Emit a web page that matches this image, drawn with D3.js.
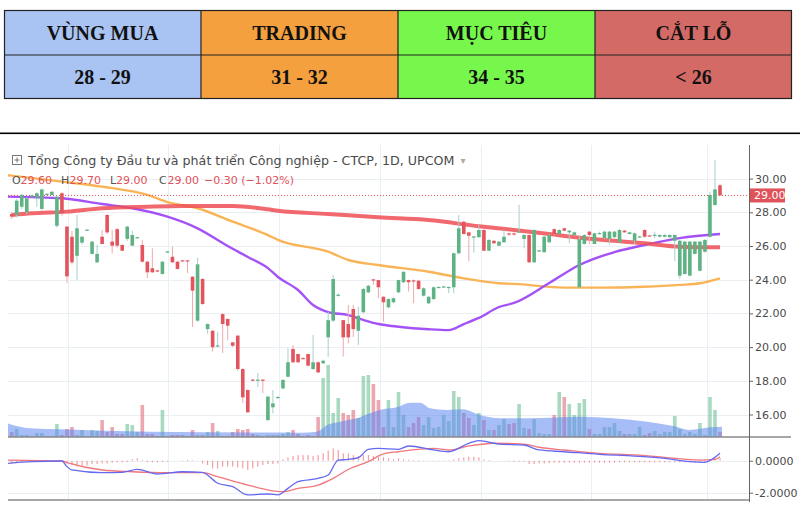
<!DOCTYPE html>
<html><head><meta charset="utf-8">
<script src="https://cdn.jsdelivr.net/npm/d3@7"></script>
<style>body{margin:0;background:#fff;} svg{display:block;}</style>
</head><body><svg id="c" width="800" height="512"></svg>
<script>
// ---------- DATA ----------
const tableHeaders = ["VÙNG MUA", "TRADING", "MỤC TIÊU", "CẮT LỖ"];
const tableValues = ["28 - 29", "31 - 32", "34 - 35", "< 26"];
const tableColors = ["#a9c4f2", "#f4a03f", "#77f74b", "#d46a66"];

const chartTitle = "Tổng Công ty Đầu tư và phát triển Công nghiệp - CTCP, 1D, UPCOM";
const ohlcLabels = ["O", "H", "L", "C"];
const ohlcValues = ["29.60", "29.70", "29.00", "29.00"];
const changeText = "−0.30 (−1.02%)";

const open  = [27.9,27.84,28.33,28,28.95,28.83,28.2,29.05,29.03,27.2,29.13,27.15,26.55,25.42,26.2,26.93,25.53,25.03,26.55,27.84,26.26,27,26.06,26.42,26.02,26.48,26.06,25.07,24.68,24.55,24.34,25.64,25.36,25.07,25.15,25.15,24.18,21.57,24.04,21.07,20.97,20.06,21.96,21.67,20.28,20.68,18.7,17.45,18.07,18.03,18.07,15.67,16.43,17,17.55,18.24,19.89,19.59,19.35,19.59,18.7,19.1,19.04,20.58,21.57,23.07,21.6,21.37,22.26,20.97,22.07,23.25,24.02,23.98,22.99,22.36,22.66,23.25,23.85,23.98,23.96,23.94,23.05,22.6,22.85,23.53,23.56,23.53,23.55,25.57,27.44,26.81,26.53,26.52,26.95,25.72,26.31,26.02,26.22,26.75,26.75,26.83,26.42,26.65,25.03,25.68,25.63,26.22,27,26.71,27.05,26.81,26.65,23.55,26.12,26.85,26.12,26.73,26.46,26.42,26.52,26.22,26.91,26.71,26.31,26.53,26.95,26.63,26.63,26.55,26.55,26.52,26.31,24.24,24.34,24.24,25.53,24.53,25.66,26.55,28.43,29.6];
const high  = [28,28.8,29.1,28.9,29.05,29.2,29.4,29.15,29.25,29,29.2,27.2,26.9,27.84,26.6,27,26.3,26.06,26.95,27.9,26.95,27.05,26.1,27.2,26.9,26.55,26.36,25.1,25.86,24.6,25.1,25.7,25.96,25.1,25.17,25.17,24.2,25.3,24.1,21.4,21,20.9,22,21.7,20.3,20.7,18.75,17.5,18.1,18.46,18.1,17.1,17.45,17.1,18.1,19.93,20.12,19.6,19.4,19.6,20.72,19.15,19.25,22.1,24.28,23.2,21.6,22.5,22.5,22.4,23.5,23.7,24.05,24,23,22.9,22.95,24,24.5,24,24,24,23.55,23,23.6,23.6,23.65,23.6,25.6,27.84,27.5,26.85,26.6,27.25,27,26.4,26.35,26.3,26.95,26.8,26.8,28.45,26.7,26.7,27,25.76,26.6,26.7,27.05,27,27.1,26.95,26.85,26.65,26.7,26.9,26.8,26.85,26.9,26.9,26.9,27,26.95,26.85,26.8,26.6,27,26.65,26.85,26.7,26.7,26.7,26.7,26.35,26.3,26.3,26.3,26.3,26.4,29.22,31.1,29.7];
const low   = [27.6,27.7,28.2,27.9,28.9,28.33,28.1,29,29,27.1,27.8,23.8,24.9,23.98,26.1,26.9,25.5,25,26.1,26.7,25.57,25.9,25.7,26.3,26,26.45,25,24.1,24.4,24.45,24.3,25.6,25,24.6,25.1,24.4,21.2,21.5,22.5,20.8,19.73,20,19.65,20.4,20,18.6,16.68,16.1,18,17.63,17.26,15.6,16.07,16.95,17.5,18.2,19.05,19.05,19.3,18.85,18.65,18.45,19,19.43,21.5,23,19.43,20.22,20.6,20.12,22,23.2,23.7,22.9,21.5,22.3,22.6,23.2,23.8,23.3,22.6,23.4,23,22.55,22.8,23.5,23.55,23.2,23.2,25.5,26.7,25.1,25.6,26.5,25.7,25.7,26.1,26,26.2,26.6,26.6,26.8,25.86,25,25,25.65,25.6,26.2,26.65,26.7,26.9,26.16,26.6,23.5,26.1,26.1,26.1,26.7,26.4,26.1,26.5,26.2,26.8,26.7,26.1,26.5,26.5,26.58,26.46,26.5,26.5,26.5,25.1,24.05,24.3,24.2,25.5,24.5,25.6,26.5,28.4,29];
const close = [27.75,28.69,29.03,28.83,29,29.13,29.36,29.1,29.22,28.93,27.94,24.2,25.03,27.05,26.55,26.97,26.26,25.53,26.12,26.81,26.02,26.02,25.72,27.15,26.65,26.52,25.07,24.44,24.44,24.5,25.07,25.68,25.03,24.64,25.11,25.11,23.35,24.91,22.56,21.37,19.99,20.1,21.37,21.27,20.08,18.7,17.02,16.13,18.03,18.07,18.03,17.06,16.66,17.04,18.05,19.1,19.1,19.1,19.31,18.9,19.1,18.5,19.19,21.6,24.04,23.11,20.58,20.58,21.07,21.86,23.45,23.64,23.98,23.55,22.66,22.85,22.9,23.98,24.47,23.85,23.92,23.45,23.49,22.99,23.55,23.57,23.6,23.57,25.57,27.05,26.71,26.61,26.57,26.95,25.72,26.36,26.16,26.26,26.55,26.68,26.68,26.87,26.65,25.03,26.95,25.74,26.55,26.65,26.71,26.95,26.91,26.91,26.81,26.4,26.65,26.65,26.75,26.77,26.85,26.85,26.85,26.95,26.81,26.81,26.75,26.57,26.55,26.59,26.67,26.65,26.65,26.65,26.65,26.31,26.26,26.26,26.26,26.26,26.36,29.03,29.36,29];
const volume = [5,8,2,2,1,4,4,1,1,13,2,8,10,2,7,1,7,6,17,5,10,3,3,13,12,5,32,3,3,1,27,1,2,2,2,1,7,2,2,5,14,6,1,1,5,8,7,8,3,2,1,2,2,2,3,5,7,3,1,2,1,20,59,72,24,39,24,22,27,19,61,62,53,37,10,37,10,45,22,10,14,20,12,20,9,10,22,16,46,40,24,19,12,24,17,7,7,12,18,13,14,33,9,8,18,4,3,3,22,45,40,33,22,34,38,8,3,3,10,10,14,6,3,3,3,10,2,4,6,3,5,5,21,8,3,5,3,14,2,40,27,5];
const macdHist = [-0.15,-0.12,-0.1,-0.05,-0.03,0.02,0.03,0.02,0.02,0,-0.02,
  -0.17,-0.25,-0.37,-0.37,-0.3,
  -0.21,-0.21,-0.17,-0.17,-0.13,-0.1,-0.1,-0.08,0.1,0.15,0.05,
  -0.1,-0.1,-0.1,-0.08,-0.05,
  0,0,0.03,0.05,0.03,0,
  -0.17,-0.27,-0.48,-0.48,-0.37,-0.37,-0.37,-0.42,-0.48,-0.58,-0.48,-0.37,-0.27,-0.21,-0.21,-0.17,
  0.08,0.21,0.29,0.35,0.35,0.35,0.29,0.35,0.46,0.63,0.77,0.67,0.46,0.46,0.35,0.29,0.35,0.35,0.29,0.21,0.21,0.15,0.08,0.15,
  0.08,0.06,0.04,0.04,0.03,0.02,0.02,0.02,0.02,0.03,0.08,
  0.15,0.21,0.25,0.25,0.21,0.08,0.04,0,
  0,0,-0.03,
  -0.06,-0.06,-0.06,-0.21,-0.21,-0.17,-0.17,-0.15,
  -0.13,-0.13,-0.13,-0.13,-0.13,-0.13,-0.13,-0.13,-0.13,-0.13,-0.13,-0.13,-0.13,
  -0.1,-0.1,-0.1,-0.1,-0.1,-0.1,-0.1,-0.1,-0.1,-0.1,-0.1,-0.1,-0.1,-0.1,-0.1,-0.1,-0.1,-0.1,
  0.08,0.21,0.15];

// moving averages: [bar index, value]
const maRed = [[0,27.84],[4,27.94],[11,28.04],[18,28.24],[27,28.33],[34,28.37],[41,28.37],[44,28.38],[51,28.18],[53,28.09],[63,27.9],[73,27.7],[83,27.54],[93,27.17],[100,26.95],[107,26.71],[113,26.49],[120,26.31],[126,26.16],[133,25.96],[141,25.92]];
const maOrange = [[-0.8,30.2],[10,29.82],[18,29.52],[27,29.03],[31,28.6],[37,28.24],[44,27.44],[51,26.65],[53,26.36],[63,25.66],[67,25.17],[73,24.87],[83,24.47],[90,24.08],[97,23.79],[100,23.75],[110,23.53],[117,23.53],[126,23.58],[133,23.69],[137,23.79],[141,24.08]];
const maPurple = [[-0.8,28.93],[10,28.83],[18,28.49],[24,28.24],[31,27.74],[37,27.05],[43,26.0],[47,25.35],[51,24.69],[53,24.16],[57,23.39],[60,22.5],[63,22.08],[67,21.9],[70,21.61],[73,21.37],[77,21.21],[83,21.06],[87,21.01],[90,21.37],[93,21.73],[97,22.38],[100,22.62],[107,23.8],[113,24.87],[120,25.64],[126,26.06],[133,26.47],[141,26.71]];
const volMA = [[-0.8,13.7],[3.6,8.7],[9.6,7.7],[27.5,5.3],[57.4,4.3],[60.8,5.3],[62.8,12],[65.4,15.3],[68.7,18.7],[71.3,23.7],[73.3,27],[76.7,29.7],[79.3,34.3],[81.3,34.3],[83.3,28.7],[86.7,27],[89.8,27.7],[93.2,22],[97.2,18.7],[103.2,18.7],[113.1,20.3],[119.7,18.7],[126.5,15.3],[131.7,11],[135,7],[139,9.7],[141.4,10.3]];
const macdLine = [[-0.8,-0.17],[4,-0.06],[10,-0.02],[11,-0.37],[12,-0.58],[18,-0.75],[22,-0.73],[25,-0.54],[29,-0.83],[34,-0.69],[38,-0.73],[41,-1.41],[44,-1.62],[47,-2.14],[51,-2.08],[53,-2.14],[55,-1.73],[57,-1.31],[61,-1.1],[63,-0.89],[65,0.04],[67,0.08],[69,0.19],[71,0.71],[73,0.77],[77,0.71],[79,0.92],[84,0.67],[87,0.56],[91,1.09],[93,1.25],[97,1.04],[102,0.98],[105,0.67],[110,0.56],[117,0.4],[124,0.29],[130,0.15],[135,-0.06],[138,-0.1],[140,0.21],[141,0.46]];
const signalLine = [[-0.8,0.04],[10,-0.02],[11,-0.12],[18,-0.58],[24,-0.69],[31,-0.75],[38,-0.75],[41,-1.0],[47,-1.52],[51,-1.83],[54,-1.94],[57,-1.73],[61,-1.52],[64,-1.1],[67,-0.55],[71,-0.06],[74,0.42],[77,0.56],[84,0.77],[87,0.67],[91,0.92],[96,1.09],[102,1.04],[105,0.84],[110,0.67],[117,0.46],[124,0.36],[130,0.21],[137,0.04],[140,0.08],[141,0.25]];

const priceTicks = [16,18,20,22,24,26,28,30];
const macdTicks = [-2, 0];
const monthStarts = [11.2, 31.1, 53.2, 73.3, 93.4, 115.3, 138.4];
const lastPrice = 29.0;

// ---------- DRAW ----------
const svg = d3.select("#c");
const FONT = "'DejaVu Sans', Verdana, sans-serif";

// table
const tx = d3.scaleBand().domain(d3.range(tableHeaders.length)).range([4, 792]);
const rowY = [10, 55, 98];
const tg = svg.append("g");
tableHeaders.forEach((h, i) => {
  tg.append("rect").attr("x", tx(i)).attr("y", rowY[0]).attr("width", tx.bandwidth()).attr("height", rowY[2]-rowY[0]).attr("fill", tableColors[i]);
});
tg.selectAll("text.h").data(tableHeaders).join("text")
  .attr("x", (d,i)=>tx(i)+tx.bandwidth()/2).attr("y", 40).attr("text-anchor","middle")
  .attr("font-family","'Liberation Serif', 'Times New Roman', serif").attr("font-weight","bold").attr("font-size",20).attr("fill","#111").text(d=>d);
tg.selectAll("text.v").data(tableValues).join("text")
  .attr("x", (d,i)=>tx(i)+tx.bandwidth()/2).attr("y", 84).attr("text-anchor","middle")
  .attr("font-family","'Liberation Serif', 'Times New Roman', serif").attr("font-weight","bold").attr("font-size",20).attr("fill","#111").text(d=>d);
const tl = "#222";
tg.append("rect").attr("x",4.5).attr("y",rowY[0]+0.5).attr("width",787).attr("height",rowY[2]-rowY[0]).attr("fill","none").attr("stroke",tl).attr("stroke-width",1.2);
tg.append("line").attr("x1",4).attr("x2",792).attr("y1",rowY[1]).attr("y2",rowY[1]).attr("stroke",tl).attr("stroke-width",1.2);
d3.range(1, tableHeaders.length).forEach(i => {
  tg.append("line").attr("x1",tx(i)).attr("x2",tx(i)).attr("y1",rowY[0]).attr("y2",rowY[2]).attr("stroke",tl).attr("stroke-width",1.2);
});

// separator
svg.append("rect").attr("x",0).attr("y",132.5).attr("width",800).attr("height",1.6).attr("fill","#000");

// scales
const N = open.length;
const x = d3.scaleLinear().domain([0, N-1]).range([11.7, 720]);
const y = d3.scaleLinear().domain([16, 30]).range([414.5, 178.6]);
const yV = d3.scaleLinear().domain([0, 80]).range([437, 357]);
const yM = d3.scaleLinear().domain([-2, 0]).range([492.7, 460.7]);
const L = 8, R = 749, TOP = 145, MAINB = 437, BOT = 500;

svg.append("defs").append("clipPath").attr("id","clipMain").append("rect").attr("x",L).attr("y",TOP).attr("width",R-L).attr("height",MAINB-TOP);
svg.select("defs").append("clipPath").attr("id","clipMacd").append("rect").attr("x",L).attr("y",MAINB).attr("width",R-L).attr("height",BOT-MAINB);

const grid = svg.append("g").attr("stroke","#eaeff4").attr("stroke-width",1);
grid.selectAll("line.h").data(priceTicks).join("line").attr("x1",L).attr("x2",R).attr("y1",d=>Math.round(y(d))+0.5).attr("y2",d=>Math.round(y(d))+0.5);
grid.selectAll("line.m").data(macdTicks).join("line").attr("x1",L).attr("x2",R).attr("y1",d=>Math.round(yM(d))+0.5).attr("y2",d=>Math.round(yM(d))+0.5);
grid.selectAll("line.v").data(monthStarts).join("line").attr("x1",d=>Math.round(x(d))+0.5).attr("x2",d=>Math.round(x(d))+0.5).attr("y1",TOP).attr("y2",BOT);

const green = "#5fb283", red = "#e2555e";
const isUp = i => close[i] >= open[i];
const idx = d3.range(N);

// volume
const main = svg.append("g").attr("clip-path","url(#clipMain)");
main.selectAll("rect.vol").data(idx).join("rect")
  .attr("x", i=>x(i)-1.8).attr("width",3.6)
  .attr("y", i=>yV(volume[i])).attr("height", i=>yV(0)-yV(volume[i]))
  .attr("fill", i=> isUp(i) ? "rgba(83,180,130,0.5)" : "rgba(220,80,100,0.5)");
main.append("path").datum(volMA)
  .attr("d", d3.area().x(d=>x(d[0])).y0(yV(0)).y1(d=>yV(d[1])).curve(d3.curveMonotoneX))
  .attr("fill","rgba(95,135,240,0.55)");

// MAs
const ln = d3.line().x(d=>x(d[0])).y(d=>y(d[1])).curve(d3.curveMonotoneX);
main.append("path").datum(maOrange).attr("d",ln).attr("fill","none").attr("stroke","#f9b457").attr("stroke-width",2.4);
main.append("path").datum(maPurple).attr("d",ln).attr("fill","none").attr("stroke","#a452f5").attr("stroke-width",2.4);
main.append("path").datum(maRed).attr("d",ln).attr("fill","none").attr("stroke","#ee4f55").attr("stroke-width",4).attr("stroke-opacity",0.85);

// last price dotted line
main.append("line").attr("x1",L).attr("x2",R).attr("y1",y(lastPrice)).attr("y2",y(lastPrice)).attr("stroke","#e0525a").attr("stroke-dasharray","1,2").attr("stroke-width",1);

// candles
main.selectAll("line.wick").data(idx).join("line")
  .attr("x1",i=>x(i)).attr("x2",i=>x(i)).attr("y1",i=>y(high[i])).attr("y2",i=>y(low[i]))
  .attr("stroke", i=> isUp(i) ? "#a7cfcf" : "#f0a9ae").attr("stroke-width",1);
main.selectAll("rect.body").data(idx).join("rect")
  .attr("x", i=>x(i)-1.8).attr("width",3.6)
  .attr("y", i=>y(Math.max(open[i],close[i])))
  .attr("height", i=>Math.max(1.2, Math.abs(y(open[i])-y(close[i]))))
  .attr("fill", i=> isUp(i) ? green : red);

// MACD pane
const mg = svg.append("g").attr("clip-path","url(#clipMacd)");
mg.selectAll("line.hist").data(idx.filter(i=>macdHist[i]!==0)).join("line")
  .attr("x1",i=>x(i)).attr("x2",i=>x(i)).attr("y1",yM(0)).attr("y2",i=>yM(macdHist[i]))
  .attr("stroke","#f28a8f").attr("stroke-width",1);
const ml = d3.line().x(d=>x(d[0])).y(d=>yM(d[1])).curve(d3.curveMonotoneX);
mg.append("path").datum(signalLine).attr("d",ml).attr("fill","none").attr("stroke","#f0777c").attr("stroke-width",1.3);
mg.append("path").datum(macdLine).attr("d",ml).attr("fill","none").attr("stroke","#6468f0").attr("stroke-width",1.3);

// pane borders
svg.append("line").attr("x1",L).attr("x2",791).attr("y1",MAINB).attr("y2",MAINB).attr("stroke","#8a8a8a").attr("stroke-width",1.5);
svg.append("line").attr("x1",L).attr("x2",R).attr("y1",BOT).attr("y2",BOT).attr("stroke","#8a8a8a").attr("stroke-width",1.5);

// axes
const ax = svg.append("g").attr("transform",`translate(${R},0)`)
  .call(d3.axisRight(y).tickValues(priceTicks).tickFormat(d3.format(".2f")).tickSize(4).tickPadding(2));
const ax2 = svg.append("g").attr("transform",`translate(${R},0)`)
  .call(d3.axisRight(yM).tickValues(macdTicks).tickFormat(d=>d.toFixed(4)).tickSize(4).tickPadding(2));
[ax, ax2].forEach(a => {
  a.select(".domain").remove();
  a.selectAll("line").attr("stroke","#666");
  a.selectAll("text").attr("font-family",FONT).attr("font-size",11).attr("fill","#4a4a4a");
});
svg.append("line").attr("x1",R+0.5).attr("x2",R+0.5).attr("y1",TOP).attr("y2",BOT+2).attr("stroke","#666").attr("stroke-width",1);

// last price label
const lp = svg.append("g");
lp.append("rect").attr("x",R+1).attr("y",y(lastPrice)-7).attr("width",35).attr("height",14).attr("fill","#e0525a");
lp.append("text").attr("x",R+5).attr("y",y(lastPrice)+4).attr("font-family",FONT).attr("font-size",11).attr("fill","#fff").text(lastPrice.toFixed(2));

// header
const hg = svg.append("g");
hg.append("rect").attr("x",12.5).attr("y",155.5).attr("width",9).attr("height",9).attr("fill","none").attr("stroke","#777");
hg.append("line").attr("x1",14.5).attr("x2",19.5).attr("y1",160).attr("y2",160).attr("stroke","#777");
hg.append("line").attr("x1",17).attr("x2",17).attr("y1",157.5).attr("y2",162.5).attr("stroke","#777");
const tt = hg.append("text").attr("x",28).attr("y",165).attr("font-family",FONT).attr("font-size",13).attr("fill","#4a4a4a").text(chartTitle);
let tw = tt.node().getComputedTextLength();
const fs = 13 * 427 / tw;
tt.attr("font-size", fs);
tw = tt.node().getComputedTextLength();
hg.append("text").attr("x",28+tw+6).attr("y",164).attr("font-family",FONT).attr("font-size",10).attr("fill","#aaa").text("▾");

// O H L C line, positioned with a band scale over the four fields
const og = hg.append("g").attr("font-family",FONT).attr("font-size",11);
const ob = d3.scaleBand().domain(d3.range(ohlcLabels.length)).range([12, 208]);
ohlcLabels.forEach((lab, i) => {
  og.append("text").attr("x", ob(i)).attr("y",184).attr("fill","#555").text(lab);
  og.append("text").attr("x", ob(i) + (lab === "L" ? 6 : 8.5)).attr("y",184).attr("fill","#e0525a").text(ohlcValues[i]);
});
og.append("text").attr("x",204).attr("y",184).attr("fill","#e0525a").text(changeText);
</script></body></html>
